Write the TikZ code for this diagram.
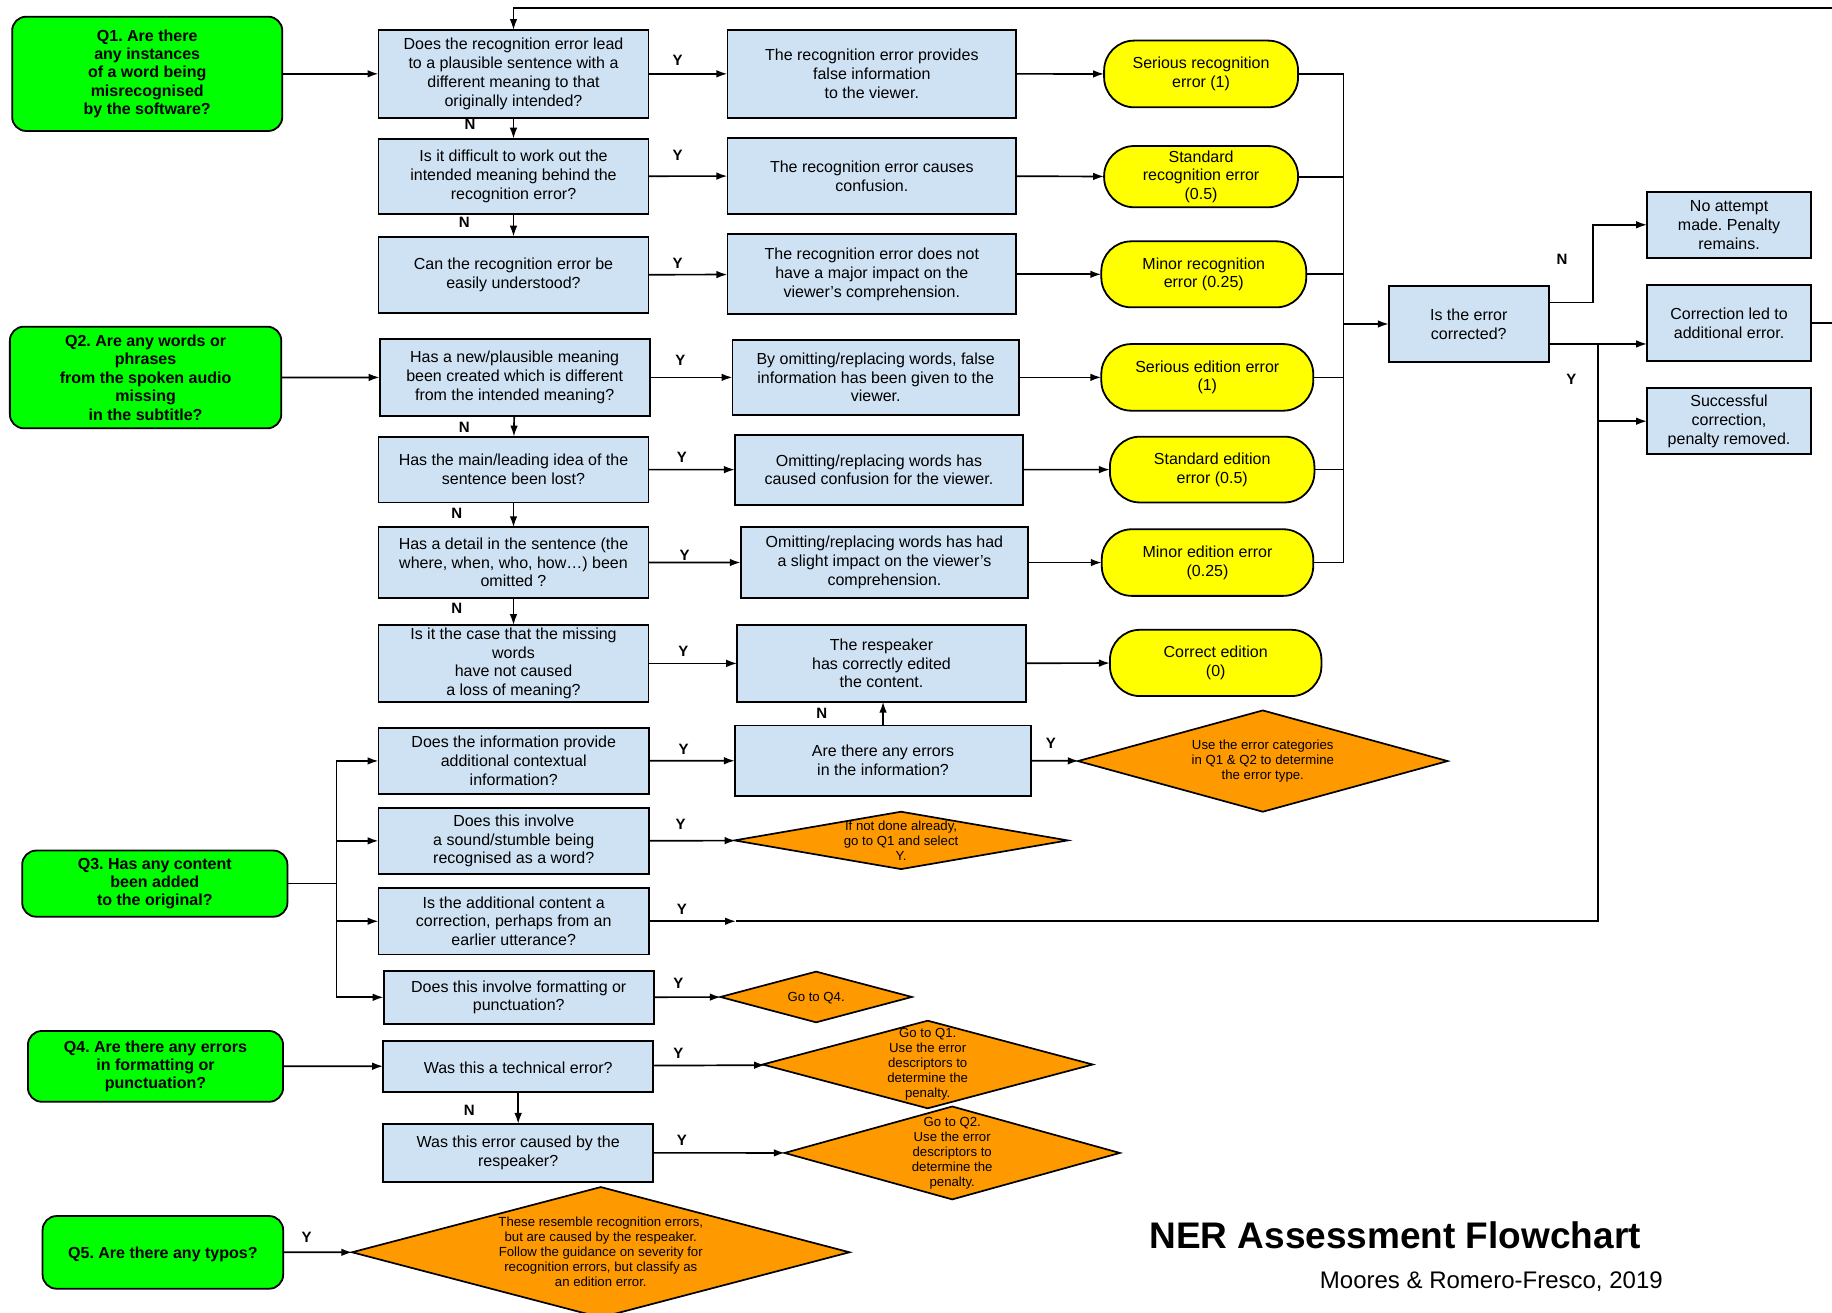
\documentclass[tikz,border=0pt]{standalone}
\usepackage{fontspec}
\setmainfont{Liberation Sans}
\usetikzlibrary{arrows.meta,shapes.geometric}
\frenchspacing
\definecolor{qgreen}{HTML}{00FF00}
\definecolor{boxblue}{HTML}{CFE2F3}
\definecolor{resyellow}{HTML}{FFFF00}
\definecolor{diaorange}{HTML}{FF9900}
\tikzset{every picture/.style={line width=0.85pt}}
\tikzset{
  wh/.style 2 args={minimum width=#1*0.5842pt, minimum height=#2*0.5842pt},
  lowtext/.style={execute at begin node={\rule{0pt}{#1}}},
  qnode/.style={draw, line width=0.9pt, fill=qgreen, rounded corners=7pt, align=center, inner sep=1pt, outer sep=0pt, lowtext=7.4pt, font=\fontsize{8}{9.2}\selectfont\bfseries},
  qbox/.style={draw, line width=0.9pt, fill=boxblue, align=center, inner sep=1pt, outer sep=0pt, lowtext=7.4pt, font=\fontsize{8}{9.4}\selectfont},
  resnode/.style={draw, line width=0.9pt, fill=resyellow, rounded corners=15pt, align=center, inner sep=1pt, outer sep=0pt, lowtext=7.4pt, font=\fontsize{8}{9.3}\selectfont},
  dia/.style={draw, fill=diaorange, diamond, inner sep=0pt, outer sep=0pt},
  diatext/.style={align=center, inner sep=0pt, lowtext=6.2pt, font=\fontsize{6.6}{7.5}\selectfont},
  yn/.style={inner sep=0pt, font=\fontsize{7.5}{8}\selectfont\bfseries},
  arr/.style={-{Latex[length=5.5pt,width=3.8pt]}},
}

\begin{document}
\begin{tikzpicture}[x=0.5842pt,y=0.5842pt,yscale=-1,xscale=1]
\useasboundingbox (0,0) rectangle (1568,1123);
\clip (0,0) rectangle (1568,1123);

% Text Node
\node[qnode, wh={231.2}{97.8}] (q1) at (126,63.2) {Q1. Are there\\any instances\\of a word being\\misrecognised\\by the software?};
\node[qnode, wh={232.3}{87}] (q2) at (124.6,323.1) {Q2. Are any words or\\phrases\\from the spoken audio\\missing\\in the subtitle?};
\node[qnode, wh={227}{56.6}] (q3) at (132.5,756.3) {Q3. Has any content\\been added\\to the original?};
\node[qnode, wh={218.4}{60.6}] (q4) at (133.1,912.7) {Q4. Are there any errors\\in formatting or\\punctuation?};
\node[qnode, wh={205.9}{62.2}] (q5) at (139.4,1071.9) {Q5. Are there any typos?};

% Text Node
\node[qbox, wh={231}{75}] (r1) at (439.5,63.2) {Does the recognition error lead\\to a plausible sentence with a\\different meaning to that\\originally intended?};
\node[qbox, wh={231}{64.3}] (r2) at (439.5,150.9) {Is it difficult to work out the\\intended meaning behind the\\recognition error?};
\node[qbox, wh={231}{65.4}] (r3) at (439.5,235.3) {Can the recognition error be\\easily understood?};
\node[qbox, wh={231}{65.8}] (r4) at (440.5,323) {Has a new/plausible meaning\\been created which is different\\from the intended meaning?};
\node[qbox, wh={231}{56.3}] (r5) at (439.5,401.9) {Has the main/leading idea of the\\sentence been lost?};
\node[qbox, wh={231}{60.2}] (r6) at (439.5,481.4) {Has a detail in the sentence (the\\where, when, who, how…) been\\omitted ?};
\node[qbox, wh={231}{65.5}] (r7) at (439.5,567.8) {Is it the case that the missing\\words\\have not caused\\a loss of meaning?};
\node[qbox, wh={231.4}{56.6}] (info) at (439.7,651.3) {Does the information provide\\additional contextual\\information?};
\node[qbox, wh={231.4}{56.5}] (sound) at (439.7,719.7) {Does this involve\\a sound/stumble being\\recognised as a word?};
\node[qbox, wh={231.4}{57}] (addl) at (439.7,788.5) {Is the additional content a\\correction, perhaps from an\\earlier utterance?};
\node[qbox, wh={231.2}{45.6}] (fmt) at (444,853.6) {Does this involve formatting or\\punctuation?};
\node[qbox, wh={231}{43.6}] (tech) at (443.5,912.5) {Was this a technical error?};
\node[qbox, wh={231}{49.4}] (resp) at (443.5,986.7) {Was this error caused by the\\respeaker?};

% Text Node
\node[qbox, wh={247.2}{75}] (m1) at (746.2,63.2) {The recognition error provides\\false information\\to the viewer.};
\node[qbox, wh={247.2}{65.6}] (m2) at (746.2,150.6) {The recognition error causes\\confusion.};
\node[qbox, wh={247.2}{68.4}] (m3) at (746.2,234.8) {The recognition error does not\\have a major impact on the\\viewer’s comprehension.};
\node[qbox, wh={245}{64}] (m4) at (749.5,323) {By omitting/replacing words, false\\information has been given to the\\viewer.};
\node[qbox, wh={246.6}{60}] (m5) at (752.3,402) {Omitting/replacing words has\\caused confusion for the viewer.};
\node[qbox, wh={246}{61}] (m6) at (757,481.5) {Omitting/replacing words has had\\a slight impact on the viewer’s\\comprehension.};
\node[qbox, wh={247}{65.5}] (m7) at (754.5,567.8) {The respeaker\\has correctly edited\\the content.};
\node[qbox, wh={253.6}{60}] (areerr) at (755.8,651) {Are there any errors\\in the information?};

% Text Node
\node[resnode, wh={166}{57.1}] (y1) at (1028,63.3) {Serious recognition\\error (1)};
\node[resnode, wh={166}{52.4}] (y2) at (1028,151.2) {Standard\\recognition error\\(0.5)};
\node[resnode, wh={175.4}{56.5}] (y3) at (1030.3,234.8) {Minor recognition\\error (0.25)};
\node[resnode, wh={181.4}{57}] (y4) at (1033.3,323) {Serious edition error\\(1)};
\node[resnode, wh={175}{56.3}] (y5) at (1037.5,401.9) {Standard edition\\error (0.5)};
\node[resnode, wh={181}{57}] (y6) at (1033.5,481.5) {Minor edition error\\(0.25)};
\node[resnode, wh={181}{56.7}] (y7) at (1040.5,567.4) {Correct edition\\(0)};

% Text Node
\node[qbox, wh={136.8}{65.5}] (iscorr) at (1257.1,277.3) {Is the error\\corrected?};
\node[qbox, wh={140.3}{56.2}] (noatt) at (1479.9,192.4) {No attempt\\made. Penalty\\remains.};
\node[qbox, wh={140.3}{65}] (corrled) at (1479.9,276.5) {Correction led to\\additional error.};
\node[qbox, wh={140.3}{56.2}] (succ) at (1479.9,360.5) {Successful\\correction,\\penalty removed.};

% Decision Node
\node[dia, wh={316.4}{86.7}] (duse) at (1080.8,651.4) {};
\node[diatext] (dusetxt) at (duse) {Use the error categories\\in Q1 \& Q2 to determine\\the error type.};
\node[dia, wh={285.2}{49.1}] (dnd) at (771.2,719.3) {};
\node[diatext] (dndtxt) at (dnd) {If not done already,\\go to Q1 and select\\Y.};
\node[dia, wh={163.9}{43.4}] (dq4) at (698.5,853.3) {};
\node[diatext] (dq4txt) at (dq4) {Go to Q4.};
\node[dia, wh={282.5}{75}] (dq1) at (794,911.1) {};
\node[diatext] (dq1txt) at (dq1) {Go to Q1.\\Use the error\\descriptors to\\determine the\\penalty.};
\node[dia, wh={286.9}{79.5}] (dq2) at (815,986.8) {};
\node[diatext] (dq2txt) at (dq2) {Go to Q2.\\Use the error\\descriptors to\\determine the\\penalty.};
\node[dia, wh={425.7}{111.6}] (dtypo) at (514.2,1071.8) {};
\node[diatext] (dtypotxt) at (dtypo) {These resemble recognition errors,\\but are caused by the respeaker.\\Follow the guidance on severity for\\recognition errors, but classify as\\an edition error.};

% Connection
\draw[arr] (q1) -- (r1);
\draw[arr] (q2) -- (r4);
\draw[arr] (q4) -- (tech);
\draw[arr] (q5) -- (dtypo);
% Connection
\draw[arr] (r1) -- (m1);
\draw[arr] (r2) -- (m2);
\draw[arr] (r3) -- (m3);
\draw[arr] (r4) -- (m4);
\draw[arr] (r5) -- (m5);
\draw[arr] (r6) -- (m6);
\draw[arr] (r7) -- (m7);
% Connection
\draw[arr] (m1) -- (y1);
\draw[arr] (m2) -- (y2);
\draw[arr] (m3) -- (y3);
\draw[arr] (m4) -- (y4);
\draw[arr] (m5) -- (y5);
\draw[arr] (m6) -- (y6);
\draw[arr] (m7) -- (y7);
% Connection
\draw[arr] (r1) -- (r2);
\draw[arr] (r2) -- (r3);
\draw[arr] (r4) -- (r5);
\draw[arr] (r5) -- (r6);
\draw[arr] (r6) -- (r7);
% Connection
\coordinate (bus) at (1150,63.3);
\draw (y1) -- (bus) -- (bus |- y6) -- (y6);
\draw (y2) -- (bus |- y2);
\draw (y3) -- (bus |- y3);
\draw (y4) -- (bus |- y4);
\draw (y5) -- (bus |- y5);
\draw[arr] (bus |- iscorr) -- (iscorr);
% Connection
\coordinate (nturn) at (1363.4,258.8);
\draw[arr] (nturn -| iscorr.east) -- (nturn) |- (noatt);
\coordinate (yj) at (1367.6,294.4);
\draw[arr] (yj -| iscorr.east) -- (yj -| corrled.west);
\draw[arr] (yj |- succ) -- (succ);
% Connection
\coordinate (loopr) at (1600,7);
\draw[arr] (corrled) -- (corrled -| loopr) -- (loopr) -- (loopr -| r1) -- (r1);
% Connection
\coordinate (q3bus) at (288,756.3);
\draw (q3) -- (q3bus);
\draw (q3bus |- info) -- (q3bus |- fmt);
\draw[arr] (q3bus |- info) -- (info);
\draw[arr] (q3bus |- sound) -- (sound);
\draw[arr] (q3bus |- addl) -- (addl);
\draw[arr] (q3bus |- fmt) -- (fmt);
% Connection
\draw[arr] (info) -- (areerr);
\draw[arr] (areerr) -- (duse);
\draw[arr] (areerr.north) -- (areerr.north |- m7.south);
\draw[arr] (sound) -- (dnd);
\coordinate (amid) at (630,788.5);
\draw[arr] (addl) -- (amid);
\draw (amid) -- (yj |- amid) -- (yj);
\draw[arr] (fmt) -- (dq4);
\draw[arr] (tech) -- (dq1);
\draw[arr] (tech) -- (resp);
\draw[arr] (resp) -- (dq2);

% Labels
\node[yn] (ly1) at (580,52) {Y};
\node[yn] (ln1) at (402.3,106) {N};
\node[yn] (ly2) at (580,133) {Y};
\node[yn] (ln2) at (397.4,190.6) {N};
\node[yn] (ly3) at (580,225) {Y};
\node[yn] (ly4) at (582.3,308.7) {Y};
\node[yn] (ln4) at (397.4,366) {N};
\node[yn] (ly5) at (583.7,391.7) {Y};
\node[yn] (ln5) at (391,439.3) {N};
\node[yn] (ly6) at (586,475) {Y};
\node[yn] (ln6) at (391,520.6) {N};
\node[yn] (ly7) at (584.8,557.2) {Y};
\node[yn] (ln7) at (703.3,610.5) {N};
\node[yn] (lyinfo) at (585,641) {Y};
\node[yn] (lyerr) at (899.4,636.2) {Y};
\node[yn] (lysound) at (582.5,705.2) {Y};
\node[yn] (lyaddl) at (583.6,778.3) {Y};
\node[yn] (lyfmt) at (580.6,842) {Y};
\node[yn] (lytech) at (580.6,901.5) {Y};
\node[yn] (lntech) at (401.7,950) {N};
\node[yn] (lyresp) at (583.7,975.7) {Y};
\node[yn] (lyq5) at (262.4,1059) {Y};
\node[yn] (lncorr) at (1337,222) {N};
\node[yn] (lycorr) at (1345,325) {Y};

% Title
\node[anchor=base west, inner sep=0pt, font=\fontsize{18.5}{20}\selectfont\bfseries] (title) at (983,1068.6) {NER Assessment Flowchart};
\node[anchor=base west, inner sep=0pt, font=\fontsize{12}{14}\selectfont] (credit) at (1129,1103) {Moores \& Romero-Fresco, 2019};

\end{tikzpicture}
\end{document}
